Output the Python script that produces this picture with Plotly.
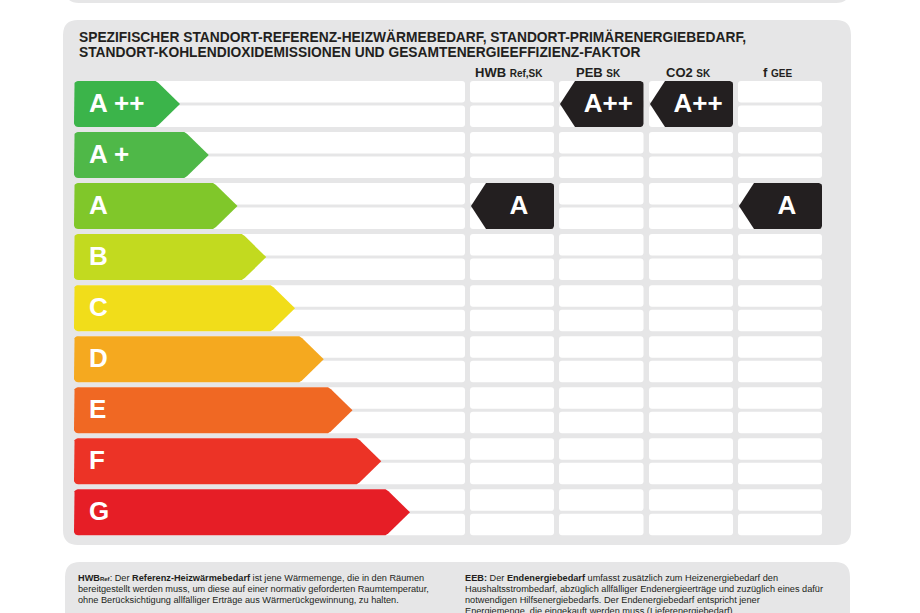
import plotly.graph_objects as go
import math

# ---------------- data ----------------
classes = ["A++", "A+", "A", "B", "C", "D", "E", "F", "G"]
class_labels = ["A ++", "A +", "A", "B", "C", "D", "E", "F", "G"]
columns = ["HWB Ref,SK", "PEB SK", "CO2 SK", "f GEE"]
column_main = ["HWB", "PEB", "CO2", "f"]
column_sub = ["Ref,SK", "SK", "SK", "GEE"]
ratings = ["A", "A++", "A++", "A"]

title_lines = [
    "SPEZIFISCHER STANDORT-REFERENZ-HEIZWÄRMEBEDARF, STANDORT-PRIMÄRENERGIEBEDARF,",
    "STANDORT-KOHLENDIOXIDEMISSIONEN UND GESAMTENERGIEEFFIZIENZ-FAKTOR",
]
note_left = [
    "<b>HWB</b><span style='font-size:6px'><b>Ref</b></span>: Der <b>Referenz-Heizwärmebedarf</b> ist jene Wärmemenge, die in den Räumen",
    "bereitgestellt werden muss, um diese auf einer normativ geforderten Raumtemperatur,",
    "ohne Berücksichtigung allfälliger Erträge aus Wärmerückgewinnung, zu halten.",
]
note_right = [
    "<b>EEB:</b> Der <b>Endenergiebedarf</b> umfasst zusätzlich zum Heizenergiebedarf den",
    "Haushaltsstrombedarf, abzüglich allfälliger Endenergieerträge und zuzüglich eines dafür",
    "notwendigen Hilfsenergiebedarfs. Der Endenergiebedarf entspricht jener",
    "Energiemenge, die eingekauft werden muss (Lieferenergiebedarf).",
]

# ---------------- style ----------------
class_colors = ["#3bb44a", "#4fb848", "#80c72a", "#c2da1f", "#f1dd1a",
                "#f5a91f", "#f06823", "#ec3326", "#e61e26"]
panel_color = "#e6e6e7"
marker_color = "#231f20"
text_color = "#231f20"
FONT = "Liberation Sans, Arial, sans-serif"

W, H = 920, 613
band_top0 = 81.0
band_pitch = 51.04
band_h = 46.0
sub_gap = 3.0
left_x0 = 74.0
left_x1 = 465.0
tip0 = 180.0
tip_step = 28.75
col_x = [(470.0, 554.0), (559.0, 643.5), (649.0, 733.0), (738.0, 822.0)]
marker_depth = 16.0


def band_top(i):
    return band_top0 + band_pitch * i


def arc(cx, cy, r, a0, a1, n=6):
    return [(cx + r * math.cos(math.radians(a0 + (a1 - a0) * k / n)),
             cy + r * math.sin(math.radians(a0 + (a1 - a0) * k / n))) for k in range(n + 1)]


def rrect_path(x0, y0, x1, y1, r):
    return (f"M{x0+r},{y0} L{x1-r},{y0} Q{x1},{y0} {x1},{y0+r} L{x1},{y1-r} "
            f"Q{x1},{y1} {x1-r},{y1} L{x0+r},{y1} Q{x0},{y1} {x0},{y1-r} "
            f"L{x0},{y0+r} Q{x0},{y0} {x0+r},{y0} Z")


shapes = []
# panels
shapes.append(dict(type="path", path=rrect_path(65, -40, 850, 3, 14),
                   fillcolor=panel_color, line_width=0, layer="below"))
shapes.append(dict(type="path", path=rrect_path(63, 20, 851, 545, 15),
                   fillcolor=panel_color, line_width=0, layer="below"))
shapes.append(dict(type="path", path=rrect_path(65, 562, 850, 660, 15),
                   fillcolor=panel_color, line_width=0, layer="below"))

# white cells
for i in range(len(classes)):
    t = band_top(i)
    sub_h = (band_h - sub_gap) / 2
    for s in range(2):
        y0 = t + s * (sub_h + sub_gap)
        y1 = y0 + sub_h
        shapes.append(dict(type="path", path=rrect_path(left_x0 + 4, y0, left_x1, y1, 3),
                           fillcolor="white", line_width=0, layer="below"))
        for (cx0, cx1) in col_x:
            shapes.append(dict(type="path", path=rrect_path(cx0, y0, cx1, y1, 3),
                               fillcolor="white", line_width=0, layer="below"))

fig = go.Figure()

# class arrows
for i, (lab, col) in enumerate(zip(class_labels, class_colors)):
    t = band_top(i)
    b = t + band_h
    m = (t + b) / 2
    tip = tip0 + tip_step * i
    body = tip - band_h / 2
    r = 4
    pts = [(left_x0 + r, t), (body - 1.5, t), (body + 1.5, t + 2), (tip, m),
           (body + 1.5, b - 2), (body - 1.5, b), (left_x0 + r, b)]
    pts += arc(left_x0 + r, b - r, r, 90, 180)
    pts += arc(left_x0 + r, t + r, r, 180, 270)
    xs = [p[0] for p in pts] + [pts[0][0]]
    ys = [p[1] for p in pts] + [pts[0][1]]
    fig.add_trace(go.Scatter(x=xs, y=ys, fill="toself", fillcolor=col, mode="lines",
                             line=dict(width=0, color=col), hoverinfo="skip", showlegend=False))
    fig.add_trace(go.Scatter(x=[89], y=[m + 1], mode="text", text=[f"<b>{lab}</b>"],
                             textposition="middle right",
                             textfont=dict(family=FONT, size=26, color="white"),
                             hoverinfo="skip", showlegend=False))

# rating markers
for j, rating in enumerate(ratings):
    i = classes.index(rating)
    t = band_top(i)
    b = t + band_h
    m = (t + b) / 2
    cx0, cx1 = col_x[j]
    r = 3
    pts = [(cx0 + 1, m), (cx0 + marker_depth, t)]
    pts += arc(cx1 - r, t + r, r, 270, 360)
    pts += arc(cx1 - r, b - r, r, 0, 90)
    pts += [(cx0 + marker_depth, b)]
    xs = [p[0] for p in pts] + [pts[0][0]]
    ys = [p[1] for p in pts] + [pts[0][1]]
    fig.add_trace(go.Scatter(x=xs, y=ys, fill="toself", fillcolor=marker_color, mode="lines",
                             line=dict(width=0, color=marker_color), hoverinfo="skip",
                             showlegend=False))
    fig.add_trace(go.Scatter(x=[(cx0 + marker_depth + cx1) / 2 - 1], y=[m + 1], mode="text",
                             text=[f"<b>{rating}</b>"], textposition="middle center",
                             textfont=dict(family=FONT, size=26, color="white"),
                             hoverinfo="skip", showlegend=False))

annotations = []
for k, line in enumerate(title_lines):
    annotations.append(dict(x=77, y=37 + k * 15.5, xref="x", yref="y", text=f"<b>{line}</b>",
                            showarrow=False, xanchor="left", yanchor="middle",
                            font=dict(family=FONT, size=13.8, color=text_color)))
for j in range(len(columns)):
    cx0, cx1 = col_x[j]
    annotations.append(dict(x=(cx0 + cx1) / 2 - 3, y=72.5, xref="x", yref="y",
                            text=f"<b>{column_main[j]} <span style='font-size:10px'>{column_sub[j]}</span></b>",
                            showarrow=False, xanchor="center", yanchor="middle",
                            font=dict(family=FONT, size=13, color=text_color)))
for k, line in enumerate(note_left):
    annotations.append(dict(x=76, y=577.5 + k * 11, xref="x", yref="y", text=line,
                            showarrow=False, xanchor="left", yanchor="middle",
                            font=dict(family=FONT, size=9.2, color=text_color)))
for k, line in enumerate(note_right):
    annotations.append(dict(x=463, y=577.5 + k * 11, xref="x", yref="y", text=line,
                            showarrow=False, xanchor="left", yanchor="middle",
                            font=dict(family=FONT, size=9.2, color=text_color)))

fig.update_layout(
    width=W, height=H, margin=dict(l=0, r=0, t=0, b=0),
    paper_bgcolor="white", plot_bgcolor="white",
    xaxis=dict(range=[0, W], visible=False, fixedrange=True),
    yaxis=dict(range=[H, 0], visible=False, fixedrange=True),
    shapes=shapes, annotations=annotations, showlegend=False,
)
fig.write_html("out.html", config={"displayModeBar": False},
               post_script="document.body.style.margin='0';document.body.style.overflow='hidden';")
